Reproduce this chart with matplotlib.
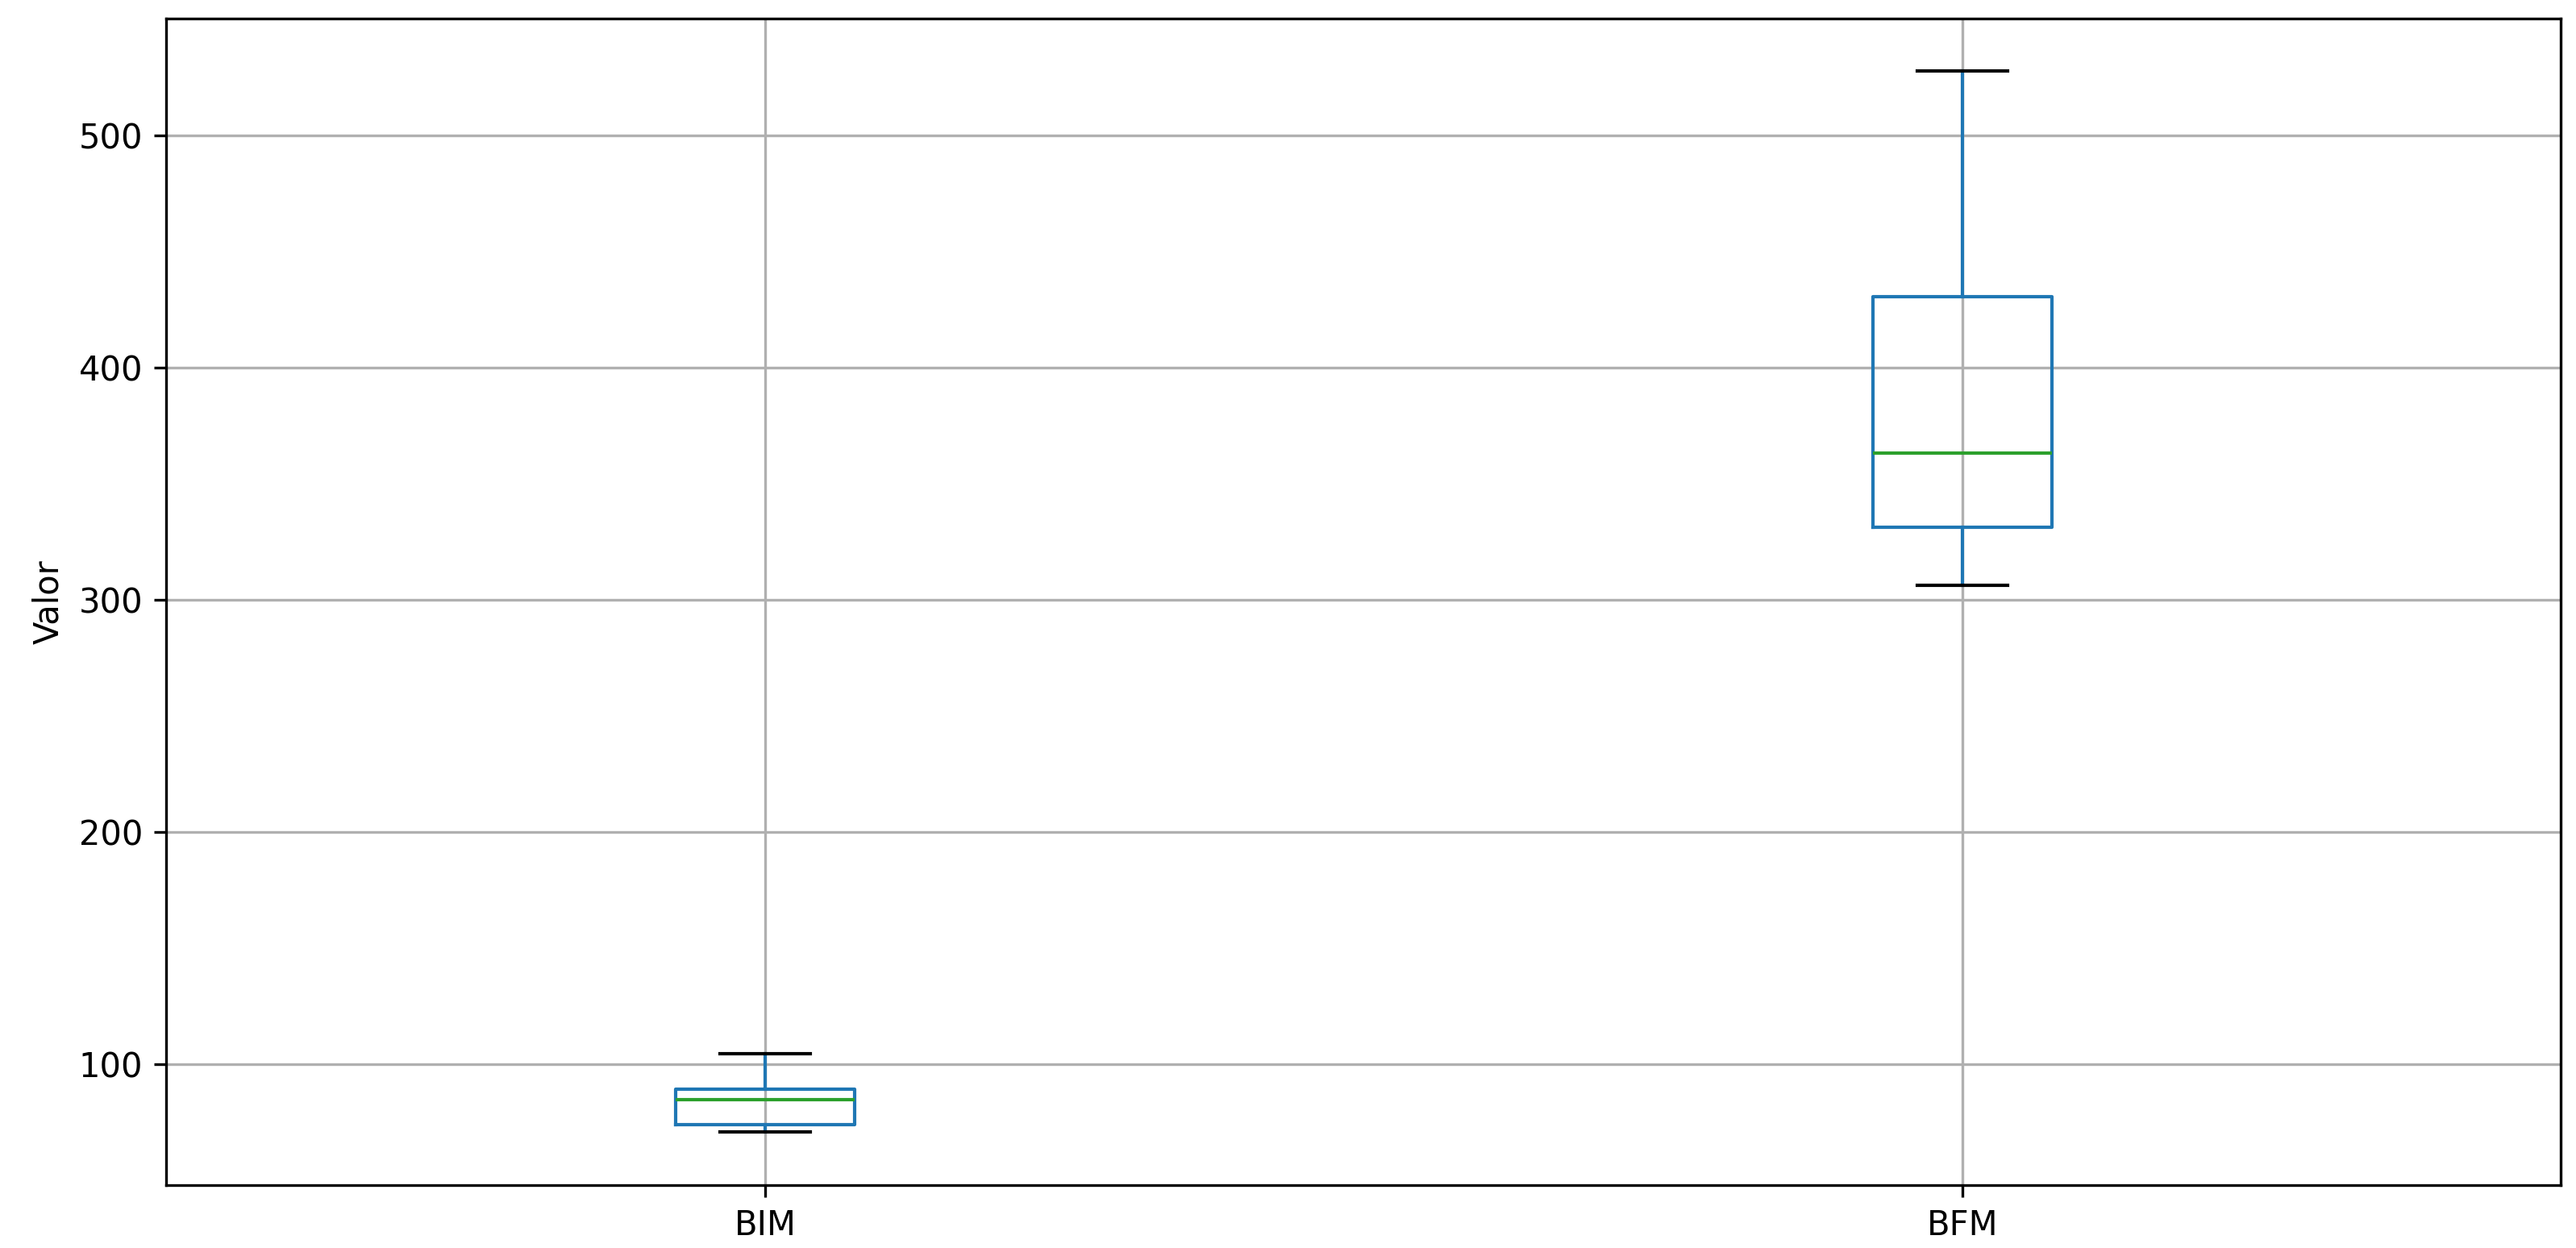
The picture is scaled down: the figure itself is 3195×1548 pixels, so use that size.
import matplotlib
matplotlib.use("Agg")
import matplotlib.pyplot as plt

# valores
labels = ["BIM", "BFM"]
whislo = [70.7, 306.4]
q1 = [73.8, 331.1]
med = [84.6, 363.2]
q3 = [89.2, 430.7]
whishi = [104.6, 527.7]

stats = []
for i in range(len(labels)):
    stats.append({"label": labels[i], "whislo": whislo[i], "q1": q1[i],
                  "med": med[i], "q3": q3[i], "whishi": whishi[i], "fliers": []})

fig = plt.figure(figsize=(10.65, 5.16), dpi=300)
ax = fig.add_axes([0.0646, 0.0504, 0.9296, 0.935])

ax.bxp(stats,
       boxprops=dict(color="C0"),
       whiskerprops=dict(color="C0"),
       medianprops=dict(color="C2"),
       capprops=dict(color="k"),
       showfliers=False)
ax.set_xlim(0.5, 2.5)
ax.grid(True)
ax.set_axisbelow(True)
ax.set_ylabel("Valor")

fig.savefig("out.png", dpi=300)
